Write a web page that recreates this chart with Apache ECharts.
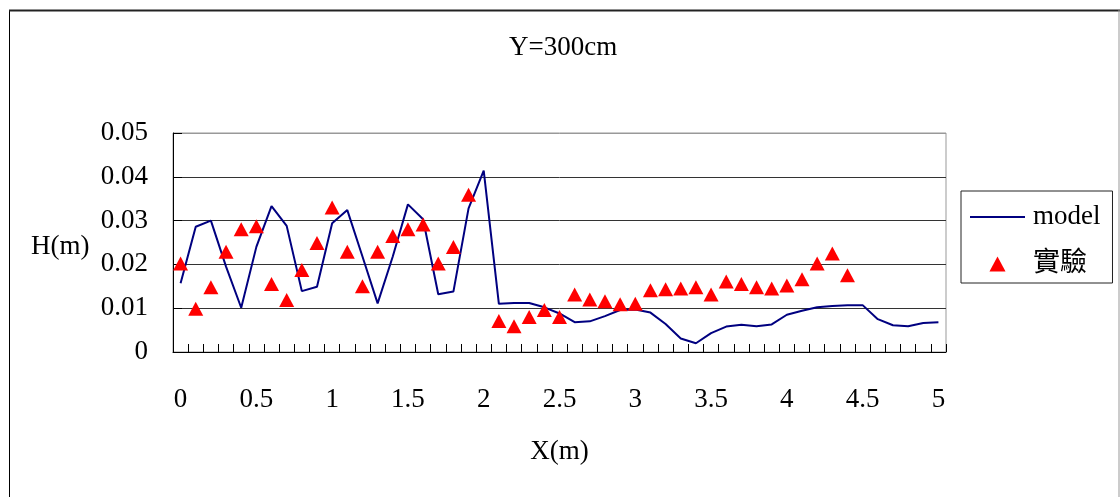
<!DOCTYPE html>
<html>
<head>
<meta charset="utf-8">
<title>Y=300cm</title>
<script src="https://cdn.jsdelivr.net/npm/echarts@6/dist/echarts.min.js"></script>
<style>
  html, body { margin: 0; padding: 0; background: #fff; }
  #chart { width: 1120px; height: 497px; }
</style>
</head>
<body>
<div id="chart"></div>
<script>
// Stations along the flume, X in metres
const xStations = [
  '0', '0.1', '0.2', '0.3', '0.4', '0.5', '0.6', '0.7', '0.8', '0.9',
  '1', '1.1', '1.2', '1.3', '1.4', '1.5', '1.6', '1.7', '1.8', '1.9',
  '2', '2.1', '2.2', '2.3', '2.4', '2.5', '2.6', '2.7', '2.8', '2.9',
  '3', '3.1', '3.2', '3.3', '3.4', '3.5', '3.6', '3.7', '3.8', '3.9',
  '4', '4.1', '4.2', '4.3', '4.4', '4.5', '4.6', '4.7', '4.8', '4.9',
  '5'
];

// Computed wave height H (m)
const modelH = [
  0.0157, 0.0286, 0.0300, 0.0195, 0.0101, 0.0240, 0.0333, 0.0288, 0.0139, 0.0149,
  0.0294, 0.0324, 0.0218, 0.0111, 0.0218, 0.0337, 0.0303, 0.0132, 0.0138, 0.0328,
  0.0414, 0.0110, 0.0112, 0.0112, 0.0102, 0.0088, 0.0068, 0.0070, 0.0082, 0.0096,
  0.0097, 0.0090, 0.0064, 0.0031, 0.0020, 0.0043, 0.0058, 0.0062, 0.0059, 0.0063,
  0.0085, 0.0094, 0.0102, 0.0105, 0.0107, 0.0107, 0.0075, 0.0061, 0.0059, 0.0066,
  0.0068
];

// Measured wave height H (m); null where no gauge reading exists
const measuredH = [
  0.0202, 0.0099, 0.0148, 0.0229, 0.0280, 0.0287, 0.0155, 0.0119, 0.0187, 0.0249,
  0.0330, 0.0229, 0.0150, 0.0229, 0.0265, 0.0280, 0.0291, 0.0202, 0.0240, 0.0359,
  null,   0.0071, 0.0059, 0.0080, 0.0096, 0.0080, 0.0131, 0.0120, 0.0116, 0.0109,
  0.0110, 0.0141, 0.0143, 0.0145, 0.0148, 0.0131, 0.0161, 0.0155, 0.0148, 0.0145,
  0.0152, 0.0166, 0.0202, 0.0225, 0.0175, null,   null,   null,   null,   null,
  null
];

const SERIF = '"Liberation Serif", "Times New Roman", "Noto Sans CJK TC", serif';

const chart = echarts.init(document.getElementById('chart'), null, { renderer: 'canvas' });

chart.setOption({
  animation: false,
  backgroundColor: '#fff',
  textStyle: { fontFamily: SERIF, color: '#000' },
  title: {
    text: 'Y=300cm',
    left: 509,
    top: 34,
    padding: 0,
    textStyle: { fontFamily: SERIF, fontSize: 27, fontWeight: 'normal', color: '#000' }
  },
  legend: {
    orient: 'vertical',
    left: 961,
    top: 191,
    padding: [11, 12, 4, 9],
    itemWidth: 55,
    itemHeight: 15,
    itemGap: 17,
    symbolKeepAspect: true,
    borderColor: '#222',
    borderWidth: 1,
    textStyle: { fontFamily: SERIF, fontSize: 27, color: '#000', lineHeight: 30, padding: [0, 0, 0, 3] },
    data: [
      { name: 'model', icon: 'path://M0,0 L55,0 L55,2 L0,2 Z', itemStyle: { color: '#000080', borderWidth: 0 } },
      { name: '實驗', icon: 'path://M7.5,0 L15,14 L0,14 Z', itemStyle: { color: '#ff0000', borderWidth: 0 } }
    ]
  },
  grid: {
    left: 173,
    right: 174,
    top: 133,
    bottom: 145,
    show: true,
    borderColor: '#999',
    borderWidth: 1,
    containLabel: false
  },
  xAxis: {
    type: 'category',
    data: xStations,
    boundaryGap: true,
    name: 'X(m)',
    nameLocation: 'middle',
    nameGap: 86,
    nameTextStyle: { fontFamily: SERIF, fontSize: 27, color: '#000' },
    axisLine: { show: true, lineStyle: { color: '#000', width: 1 } },
    axisTick: { show: true, inside: true, length: 8, interval: 0, lineStyle: { color: '#000' } },
    axisLabel: { interval: 4, margin: 34, fontFamily: SERIF, fontSize: 27, color: '#000' },
    splitLine: { show: false }
  },
  yAxis: {
    type: 'value',
    min: 0,
    max: 0.05,
    interval: 0.01,
    axisLine: { show: true, lineStyle: { color: '#000', width: 1 } },
    axisTick: { show: true, inside: true, length: 9, lineStyle: { color: '#000' } },
    axisLabel: { margin: 25, fontFamily: SERIF, fontSize: 27, color: '#000' },
    splitLine: {
      show: true,
      lineStyle: { color: ['#000', '#333', '#333', '#333', '#333', '#999'], width: 1 }
    }
  },
  series: [
    {
      name: 'model',
      type: 'line',
      data: modelH,
      symbol: 'none',
      lineStyle: { color: '#000080', width: 2 },
      itemStyle: { color: '#000080' },
      z: 2
    },
    {
      name: '實驗',
      type: 'scatter',
      data: measuredH,
      symbol: 'triangle',
      symbolSize: [15, 14],
      itemStyle: { color: '#ff0000', opacity: 1 },
      z: 3
    }
  ],
  graphic: [
    // vertical axis title
    {
      type: 'text', left: 31, top: 233,
      style: { text: 'H(m)', fontFamily: SERIF, fontSize: 27, fill: '#000' }
    },
    // outer frame
    { type: 'line', shape: { x1: 9.5, y1: 10, x2: 9.5, y2: 497 }, style: { stroke: '#000', lineWidth: 1 } },
    { type: 'line', shape: { x1: 9, y1: 10.5, x2: 1120, y2: 10.5 }, style: { stroke: '#222', lineWidth: 2 } },
    { type: 'line', shape: { x1: 1119, y1: 10, x2: 1119, y2: 497 }, style: { stroke: '#999', lineWidth: 1 } }
  ]
});
</script>
</body>
</html>
